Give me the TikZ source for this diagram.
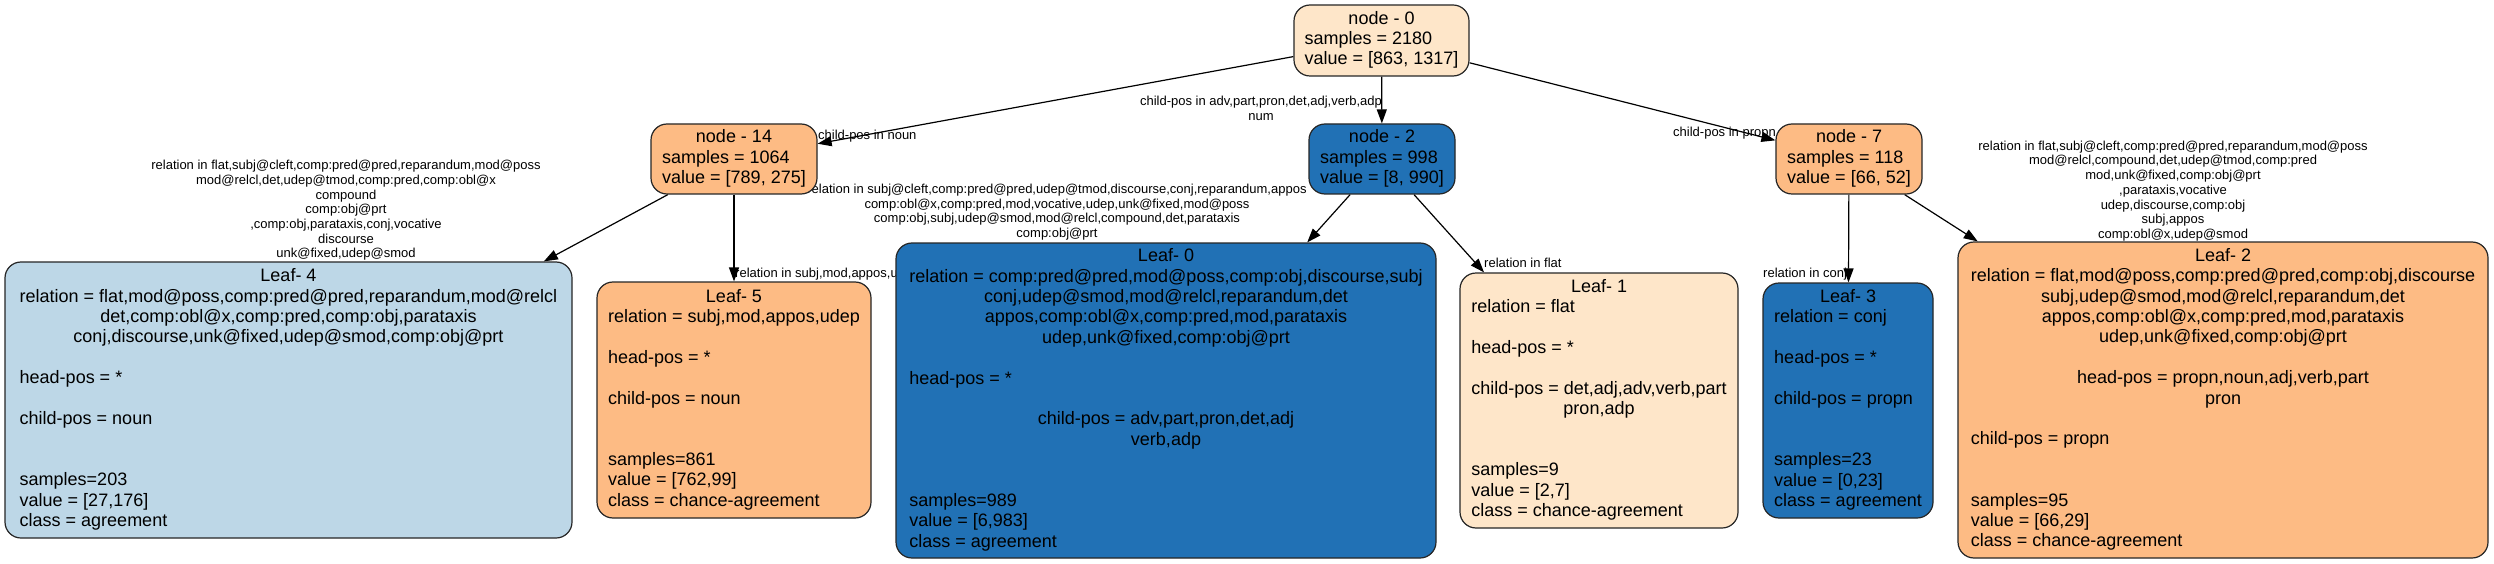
\documentclass[tikz,border=0pt]{standalone}
\usepackage{fontspec}
\setmainfont{Liberation Sans}
\usetikzlibrary{arrows.meta,backgrounds}
\definecolor{cPeach}{HTML}{FEE6C9}
\definecolor{cOrange}{HTML}{FDBB84}
\definecolor{cBlue}{HTML}{2171B5}
\definecolor{cLBlue}{HTML}{BDD7E7}
\newcommand{\mycen}[1]{\multicolumn{1}{@{}c@{}}{#1}}
\tikzset{
  tnode/.style={draw=black!85, line width=1.2pt, rounded corners=16pt, inner sep=0pt,
    font=\fontsize{18}{20.4}\selectfont, text=black},
  elabel/.style={inner sep=0pt, font=\fontsize{13}{14.7}\selectfont, align=center},
  edgearrow/.style={line width=1.2pt, draw=black, -{Triangle[length=14pt,width=10pt]}},
}
\begin{document}
\begin{tikzpicture}[x=1pt,y=-1pt]
\useasboundingbox (0,0) rectangle (2494,564);
% internal nodes
\node[tnode, fill=cPeach, minimum width=175pt, minimum height=71pt] (n0) at (1381.5,40.5)
 {\begin{tabular}{@{}l@{}}\mycen{node - 0}\\ samples = 2180\\ value = [863, 1317]\end{tabular}};
\node[tnode, fill=cOrange, minimum width=166pt, minimum height=70pt] (n14) at (734,159)
 {\begin{tabular}{@{}l@{}}\mycen{node - 14}\\ samples = 1064\\ value = [789, 275]\end{tabular}};
\node[tnode, fill=cBlue, minimum width=146pt, minimum height=70pt] (n2) at (1382,159)
 {\begin{tabular}{@{}l@{}}\mycen{node - 2}\\ samples = 998\\ value = [8, 990]\end{tabular}};
\node[tnode, fill=cOrange, minimum width=146pt, minimum height=70pt] (n7) at (1849,159)
 {\begin{tabular}{@{}l@{}}\mycen{node - 7}\\ samples = 118\\ value = [66, 52]\end{tabular}};
% leaves
\node[tnode, fill=cLBlue, minimum width=567pt, minimum height=276pt] (L4) at (288.5,400)
 {\begin{tabular}{@{}l@{}}
\mycen{Leaf- 4}\\
relation = flat,mod@poss,comp:pred@pred,reparandum,mod@relcl\\
\mycen{det,comp:obl@x,comp:pred,comp:obj,parataxis}\\
\mycen{conj,discourse,unk@fixed,udep@smod,comp:obj@prt}\\
\\
head-pos = *\\
\\
child-pos = noun\\
\\
\\
samples=203\\
value = [27,176]\\
class = agreement
\end{tabular}};
\node[tnode, fill=cOrange, minimum width=274pt, minimum height=236pt] (L5) at (734,400)
 {\begin{tabular}{@{}l@{}}
\mycen{Leaf- 5}\\
relation = subj,mod,appos,udep\\
\\
head-pos = *\\
\\
child-pos = noun\\
\\
\\
samples=861\\
value = [762,99]\\
class = chance-agreement
\end{tabular}};
\node[tnode, fill=cBlue, minimum width=540pt, minimum height=315pt] (L0) at (1166,400.5)
 {\begin{tabular}{@{}l@{}}
\mycen{Leaf- 0}\\
relation = comp:pred@pred,mod@poss,comp:obj,discourse,subj\\
\mycen{conj,udep@smod,mod@relcl,reparandum,det}\\
\mycen{appos,comp:obl@x,comp:pred,mod,parataxis}\\
\mycen{udep,unk@fixed,comp:obj@prt}\\
\\
head-pos = *\\
\\
\mycen{child-pos = adv,part,pron,det,adj}\\
\mycen{verb,adp}\\
\\
\\
samples=989\\
value = [6,983]\\
class = agreement
\end{tabular}};
\node[tnode, fill=cPeach, minimum width=278pt, minimum height=255pt] (L1) at (1599,400.5)
 {\begin{tabular}{@{}l@{}}
\mycen{Leaf- 1}\\
relation = flat\\
\\
head-pos = *\\
\\
child-pos = det,adj,adv,verb,part\\
\mycen{pron,adp}\\
\\
\\
samples=9\\
value = [2,7]\\
class = chance-agreement
\end{tabular}};
\node[tnode, fill=cBlue, minimum width=170pt, minimum height=235pt] (L3) at (1848,400.5)
 {\begin{tabular}{@{}l@{}}
\mycen{Leaf- 3}\\
relation = conj\\
\\
head-pos = *\\
\\
child-pos = propn\\
\\
\\
samples=23\\
value = [0,23]\\
class = agreement
\end{tabular}};
\node[tnode, fill=cOrange, minimum width=530pt, minimum height=316pt] (L2) at (2223,400)
 {\begin{tabular}{@{}l@{}}
\mycen{Leaf- 2}\\
relation = flat,mod@poss,comp:pred@pred,comp:obj,discourse\\
\mycen{subj,udep@smod,mod@relcl,reparandum,det}\\
\mycen{appos,comp:obl@x,comp:pred,mod,parataxis}\\
\mycen{udep,unk@fixed,comp:obj@prt}\\
\\
\mycen{head-pos = propn,noun,adj,verb,part}\\
\mycen{pron}\\
\\
child-pos = propn\\
\\
\\
samples=95\\
value = [66,29]\\
class = chance-agreement
\end{tabular}};
\begin{pgfonlayer}{background}
\fill[white] (0,0) rectangle (2494,564);
% edge labels
\node[elabel, anchor=west] (lA) at (818,136) {child-pos in noun};
\node[elabel] (lB) at (1261,108.5) {child-pos in adv,part,pron,det,adj,verb,adp\\num};
\node[elabel, anchor=west] (lC) at (1673,133) {child-pos in propn};
\node[elabel] (lD) at (346,210.5) {relation in flat,subj@cleft,comp:pred@pred,reparandum,mod@poss\\mod@relcl,det,udep@tmod,comp:pred,comp:obl@x\\compound\\comp:obj@prt\\,comp:obj,parataxis,conj,vocative\\discourse\\unk@fixed,udep@smod};
\node[elabel, anchor=west] (lE) at (735,274) {relation in subj,mod,appos,udep};
\node[elabel] (lF) at (1057,212) {relation in subj@cleft,comp:pred@pred,udep@tmod,discourse,conj,reparandum,appos\\comp:obl@x,comp:pred,mod,vocative,udep,unk@fixed,mod@poss\\comp:obj,subj,udep@smod,mod@relcl,compound,det,parataxis\\comp:obj@prt};
\node[elabel, anchor=west] (lG) at (1484,263) {relation in flat};
\node[elabel, anchor=west] (lH) at (1763,274) {relation in conj};
\node[elabel] (lI) at (2173,191) {relation in flat,subj@cleft,comp:pred@pred,reparandum,mod@poss\\mod@relcl,compound,det,udep@tmod,comp:pred\\mod,unk@fixed,comp:obj@prt\\,parataxis,vocative\\udep,discourse,comp:obj\\subj,appos\\comp:obl@x,udep@smod};
% edges
\draw[edgearrow] (n0) -- (n14);
\draw[edgearrow] (n0) -- (n2);
\draw[edgearrow] (n0) -- (n7);
\draw[edgearrow] (n14) -- (L4);
\draw[edgearrow] (n14) -- (L5);
\draw[edgearrow] (n2) -- (L0);
\draw[edgearrow] (n2) -- (L1);
\draw[edgearrow] (n7) -- (L3);
\draw[edgearrow] (n7) -- (L2);
\end{pgfonlayer}
\end{tikzpicture}
\end{document}
